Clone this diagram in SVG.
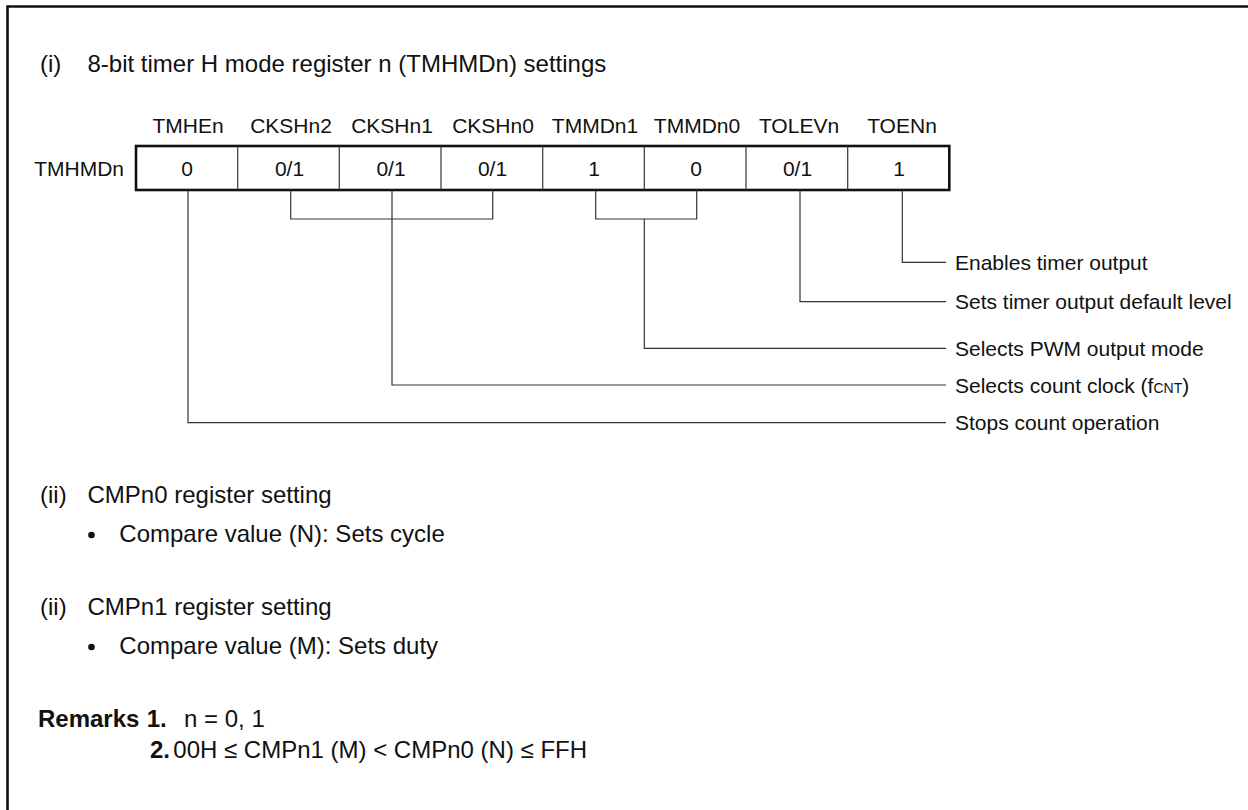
<svg xmlns="http://www.w3.org/2000/svg" width="1248" height="810" viewBox="0 0 1248 810">
<style>
text{font-family:"Liberation Sans",Arial,Helvetica,sans-serif;fill:#111}
.t{font-size:24px}
.l{font-size:21px}
.v{font-size:21px;text-anchor:middle}
.c{fill:none;stroke:#333;stroke-width:1.2}
.d{stroke:#333;stroke-width:1.2}
.b{font-weight:bold}
</style>
<rect width="1248" height="810" fill="#fff"/>
<path d="M7.5,810 V6.5 H1248" fill="none" stroke="#111" stroke-width="2.6"/>

<g id="heading1">
<text class="t" x="40" y="72">(i)</text>
<text class="t" x="87.5" y="72">8-bit timer H mode register n (TMHMDn) settings</text>
</g>

<g id="bitnames">
<text class="v" x="188" y="133">TMHEn</text>
<text class="v" x="291" y="133">CKSHn2</text>
<text class="v" x="392" y="133">CKSHn1</text>
<text class="v" x="493" y="133">CKSHn0</text>
<text class="v" x="595" y="133">TMMDn1</text>
<text class="v" x="697" y="133">TMMDn0</text>
<text class="v" x="799" y="133">TOLEVn</text>
<text class="v" x="902" y="133">TOENn</text>
</g>

<g id="register">
<text class="l" x="124" y="176" text-anchor="end">TMHMDn</text>
<rect x="136" y="146" width="813.3" height="44" fill="none" stroke="#111" stroke-width="2.6"/>
<line class="d" x1="237.7" y1="146" x2="237.7" y2="190"/>
<line class="d" x1="339.3" y1="146" x2="339.3" y2="190"/>
<line class="d" x1="441" y1="146" x2="441" y2="190"/>
<line class="d" x1="542.7" y1="146" x2="542.7" y2="190"/>
<line class="d" x1="644.3" y1="146" x2="644.3" y2="190"/>
<line class="d" x1="746" y1="146" x2="746" y2="190"/>
<line class="d" x1="847.7" y1="146" x2="847.7" y2="190"/>
<text class="v" x="187" y="176">0</text>
<text class="v" x="289.5" y="176">0/1</text>
<text class="v" x="391" y="176">0/1</text>
<text class="v" x="492.5" y="176">0/1</text>
<text class="v" x="594" y="176">1</text>
<text class="v" x="696" y="176">0</text>
<text class="v" x="797.5" y="176">0/1</text>
<text class="v" x="899" y="176">1</text>
</g>

<g id="connectors">
<path class="c" d="M188,190 V422.7 H946"/>
<path class="c" d="M290.7,190 V219 H492.7 V190"/>
<path class="c" d="M392,190 V385 H946"/>
<path class="c" d="M595.7,190 V219 H696.7 V190"/>
<path class="c" d="M644.3,219 V348.3 H946"/>
<path class="c" d="M800,190 V301.7 H946"/>
<path class="c" d="M902.3,190 V262.3 H946"/>
</g>

<g id="descriptions">
<text class="l" x="955" y="270">Enables timer output</text>
<text class="l" x="955" y="309">Sets timer output default level</text>
<text class="l" x="955" y="356">Selects PWM output mode</text>
<text class="l" x="955" y="393">Selects count clock (f<tspan font-size="14">CNT</tspan>)</text>
<text class="l" x="955" y="430">Stops count operation</text>
</g>

<g id="heading2">
<text class="t" x="40" y="503">(ii)</text>
<text class="t" x="87.5" y="503">CMPn0 register setting</text>
<circle cx="91.5" cy="535" r="3.3" fill="#111"/>
<text class="t" x="119.3" y="542">Compare value (N): Sets cycle</text>
</g>

<g id="heading3">
<text class="t" x="40" y="615">(ii)</text>
<text class="t" x="87.5" y="615">CMPn1 register setting</text>
<circle cx="91.5" cy="647" r="3.3" fill="#111"/>
<text class="t" x="119.3" y="654">Compare value (M): Sets duty</text>
</g>

<g id="remarks">
<text class="t b" x="38" y="727">Remarks</text>
<text class="t b" x="146.7" y="727">1.</text>
<text class="t" x="184" y="727">n = 0, 1</text>
<text class="t b" x="150" y="758">2.</text>
<text class="t" x="173.3" y="758">00H ≤ CMPn1 (M) &lt; CMPn0 (N) ≤ FFH</text>
</g>
</svg>
